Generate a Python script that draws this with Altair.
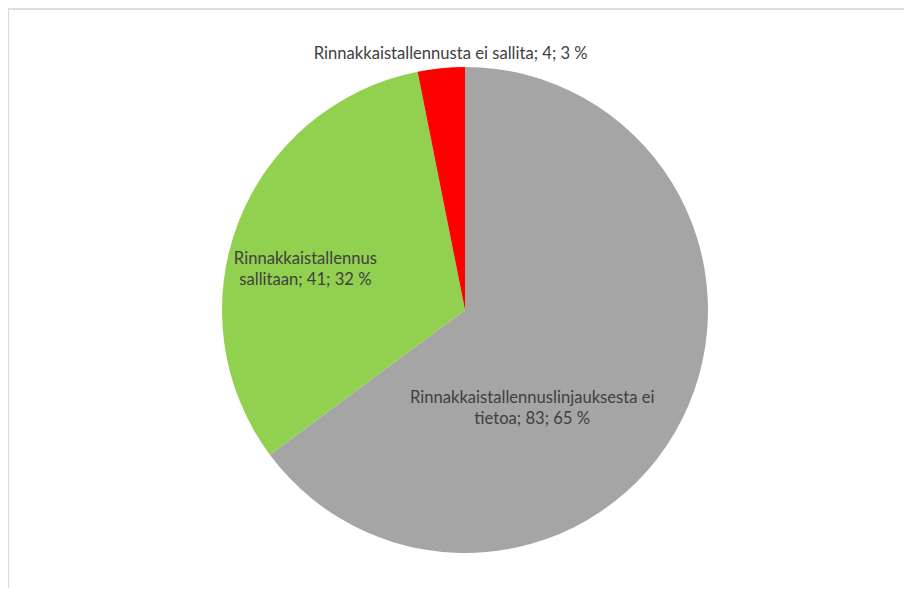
import altair as alt
import pandas as pd

categories = [
    "Rinnakkaistallennuslinjauksesta ei tietoa",
    "Rinnakkaistallennus sallitaan",
    "Rinnakkaistallennusta ei sallita",
]
label_lines = [
    "Rinnakkaistallennuslinjauksesta ei\ntietoa",
    "Rinnakkaistallennus\nsallitaan",
    "Rinnakkaistallennusta ei sallita",
]
values = [83, 41, 4]
colors = ["#A5A5A5", "#92D050", "#FF0000"]

total = sum(values)
percents = [round(v * 100 / total) for v in values]
labels = [f"{l}; {v}; {p} %" for l, v, p in zip(label_lines, values, percents)]

df = pd.DataFrame({
    "category": categories,
    "value": values,
    "idx": list(range(len(values))),
    "label": labels,
})

CX, CY, R = 457, 302, 243
FONT = "Lato"
FS = 16.6
TXT = "#404040"

base = alt.Chart(df).encode(
    theta=alt.Theta("value:Q", stack=True),
    order=alt.Order("idx:Q"),
    x=alt.value(CX),
    y=alt.value(CY),
)

pie = base.mark_arc(radius=R).encode(
    color=alt.Color("category:N", scale=alt.Scale(domain=categories, range=colors), legend=None)
)

def label_layer(i, radius, dx, dy):
    return base.transform_calculate(
        shown=f"datum.idx == {i} ? datum.label : ''"
    ).mark_text(
        radius=radius, dx=dx, dy=dy, font=FONT, fontSize=FS, color=TXT,
        lineBreak="\n", lineHeight=21, align="center", baseline="middle",
    ).encode(text="shown:N")

lab_grey = label_layer(0, 120, -40, 34)
lab_green = label_layer(1, 185, 13, 16)
lab_red = label_layer(2, 258, 11, 1)

frame_top = alt.Chart(df).mark_rule(color="#D9D9D9", strokeWidth=1).encode(
    x=alt.value(0), x2=alt.value(896), y=alt.value(1)
)
frame_left = alt.Chart(df).mark_rule(color="#D9D9D9", strokeWidth=1).encode(
    x=alt.value(0.5), y=alt.value(1), y2=alt.value(580)
)

chart = alt.layer(frame_top, frame_left, pie, lab_grey, lab_green, lab_red).properties(
    width=896, height=580, padding=0, autosize="none", background="white"
).configure_view(stroke=None)

chart.save("out.html", embed_options={"renderer": "svg", "actions": False})
